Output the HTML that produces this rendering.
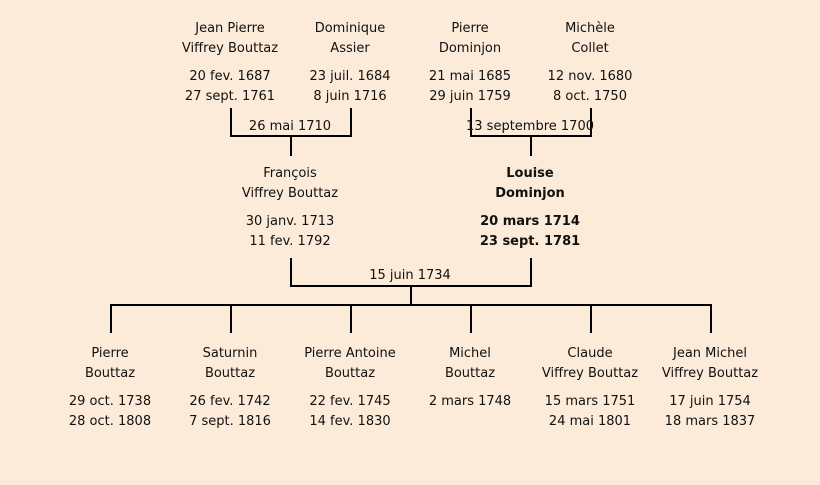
<!DOCTYPE html>
<html><head><meta charset="utf-8"><style>
html,body{margin:0;padding:0}
body{width:820px;height:485px;background:#fcebd9;position:relative;overflow:hidden;font-family:"DejaVu Sans","Liberation Sans",sans-serif;font-size:13px;color:#111}
.t{position:absolute;width:160px;margin-left:-80px;margin-top:2px;text-align:center;line-height:20px;white-space:nowrap}
.b{font-weight:bold}
.l{position:absolute;background:#000}
</style></head><body>
<div class="t" style="left:230px;top:17px">Jean Pierre<br>Viffrey Bouttaz</div>
<div class="t" style="left:230px;top:65px">20 fev. 1687<br>27 sept. 1761</div>
<div class="t" style="left:350px;top:17px">Dominique<br>Assier</div>
<div class="t" style="left:350px;top:65px">23 juil. 1684<br>8 juin 1716</div>
<div class="t" style="left:470px;top:17px">Pierre<br>Dominjon</div>
<div class="t" style="left:470px;top:65px">21 mai 1685<br>29 juin 1759</div>
<div class="t" style="left:590px;top:17px">Michèle<br>Collet</div>
<div class="t" style="left:590px;top:65px">12 nov. 1680<br>8 oct. 1750</div>
<div class="l" style="left:230px;top:108px;width:2px;height:29px"></div>
<div class="l" style="left:350px;top:108px;width:2px;height:29px"></div>
<div class="l" style="left:230px;top:135px;width:122px;height:2px"></div>
<div class="l" style="left:290px;top:135px;width:2px;height:21px"></div>
<div class="t" style="left:290px;top:115px">26 mai 1710</div>
<div class="l" style="left:470px;top:108px;width:2px;height:29px"></div>
<div class="l" style="left:590px;top:108px;width:2px;height:29px"></div>
<div class="l" style="left:470px;top:135px;width:122px;height:2px"></div>
<div class="l" style="left:530px;top:135px;width:2px;height:21px"></div>
<div class="t" style="left:530px;top:115px">13 septembre 1700</div>
<div class="t" style="left:290px;top:162px">François<br>Viffrey Bouttaz</div>
<div class="t" style="left:290px;top:210px">30 janv. 1713<br>11 fev. 1792</div>
<div class="t b" style="left:530px;top:162px">Louise<br>Dominjon</div>
<div class="t b" style="left:530px;top:210px">20 mars 1714<br>23 sept. 1781</div>
<div class="l" style="left:290px;top:258px;width:2px;height:29px"></div>
<div class="l" style="left:530px;top:258px;width:2px;height:29px"></div>
<div class="l" style="left:290px;top:285px;width:242px;height:2px"></div>
<div class="t" style="left:410px;top:264px">15 juin 1734</div>
<div class="l" style="left:410px;top:285px;width:2px;height:21px"></div>
<div class="l" style="left:110px;top:304px;width:602px;height:2px"></div>
<div class="l" style="left:110px;top:304px;width:2px;height:29px"></div>
<div class="l" style="left:230px;top:304px;width:2px;height:29px"></div>
<div class="l" style="left:350px;top:304px;width:2px;height:29px"></div>
<div class="l" style="left:470px;top:304px;width:2px;height:29px"></div>
<div class="l" style="left:590px;top:304px;width:2px;height:29px"></div>
<div class="l" style="left:710px;top:304px;width:2px;height:29px"></div>
<div class="t" style="left:110px;top:342px">Pierre<br>Bouttaz</div>
<div class="t" style="left:110px;top:390px">29 oct. 1738<br>28 oct. 1808</div>
<div class="t" style="left:230px;top:342px">Saturnin<br>Bouttaz</div>
<div class="t" style="left:230px;top:390px">26 fev. 1742<br>7 sept. 1816</div>
<div class="t" style="left:350px;top:342px">Pierre Antoine<br>Bouttaz</div>
<div class="t" style="left:350px;top:390px">22 fev. 1745<br>14 fev. 1830</div>
<div class="t" style="left:470px;top:342px">Michel<br>Bouttaz</div>
<div class="t" style="left:470px;top:390px">2 mars 1748</div>
<div class="t" style="left:590px;top:342px">Claude<br>Viffrey Bouttaz</div>
<div class="t" style="left:590px;top:390px">15 mars 1751<br>24 mai 1801</div>
<div class="t" style="left:710px;top:342px">Jean Michel<br>Viffrey Bouttaz</div>
<div class="t" style="left:710px;top:390px">17 juin 1754<br>18 mars 1837</div>
</body></html>
